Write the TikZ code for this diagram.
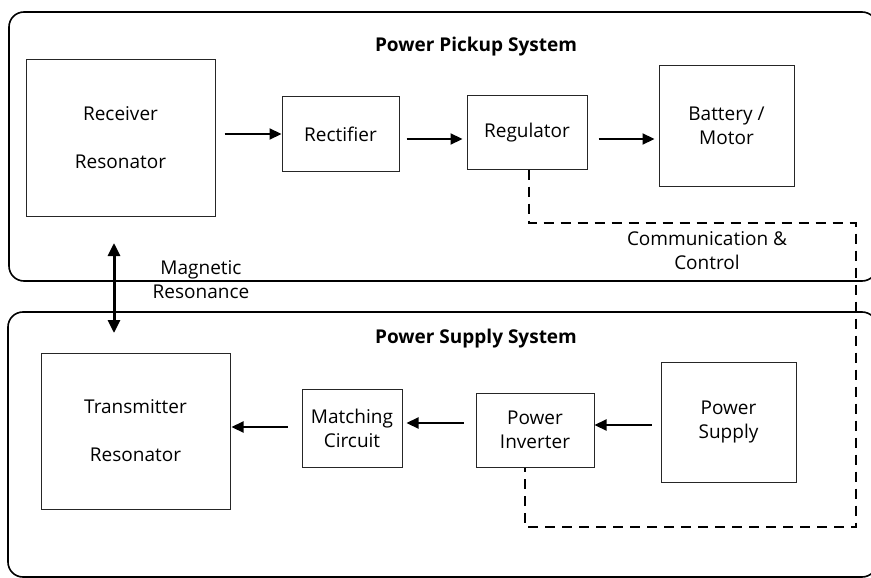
\documentclass[tikz,border=0pt]{standalone}
\usepackage{fontspec}
\setmainfont{Open Sans}
\usetikzlibrary{arrows.meta,calc}
\begin{document}
\begin{tikzpicture}[x=1pt,y=-1pt,
  blk/.style={draw=black!85,line width=1pt,inner sep=0pt,font=\fontsize{19}{24}\selectfont,align=center},
  sysbox/.style={draw=black,line width=1.6pt,rounded corners=15pt},
  flow/.style={line width=2.2pt,-{Triangle[length=12pt,width=11pt]}},
  comm/.style={line width=2pt,dash pattern=on 10pt off 7pt},
  lbl/.style={font=\fontsize{19}{24}\selectfont,align=center,inner sep=0pt},
  ttl/.style={font=\fontsize{19}{22}\selectfont\bfseries,inner sep=0pt}]
\useasboundingbox (0,0) rectangle (871,578);
\fill[white] (0,0) rectangle (871,578);
% system boxes
\draw[sysbox] (9,12) rectangle (877,281);
\draw[sysbox] (8,312) rectangle (877,577);
\node[ttl] (t1) at (476,47) {Power Pickup System};
\node[ttl] (t2) at (476,339) {Power Supply System};
% pickup blocks
\node[blk,minimum width=189pt,minimum height=156pt] (rx) at (120.5,138) {Receiver\\[24pt]Resonator};
\node[blk,minimum width=117pt,minimum height=74pt] (rect) at (340.5,134) {Rectifier};
\node[blk,minimum width=120pt,minimum height=73pt] (reg) at (527,132.5) {Regulator};
\node[blk,minimum width=135pt,minimum height=121pt] (bat) at (726.5,126) {Battery /\\Motor};
% supply blocks
\node[blk,minimum width=189pt,minimum height=156pt] (tx) at (135.5,431) {Transmitter\\[24pt]Resonator};
\node[blk,minimum width=100pt,minimum height=78pt] (mc) at (352,428) {Matching\\Circuit};
\node[blk,minimum width=118pt,minimum height=74pt] (inv) at (535,430) {Power\\Inverter};
\node[blk,minimum width=135pt,minimum height=120pt] (ps) at (728.5,422) {Power\\Supply};
% power flow
\draw[flow] ([xshift=9pt]rx.east |- rect.west) -- (rect.west);
\draw[flow] ([xshift=7pt]rect.east |- 0,139) -- ([xshift=-4pt]reg.west |- 0,139);
\draw[flow] ([xshift=11pt]reg.east |- 0,139) -- ([xshift=-4pt]bat.west |- 0,139);
\draw[flow] ([xshift=-9pt]ps.west |- 0,425) -- (inv.east |- 0,425);
\draw[flow] ([xshift=-12pt]inv.west |- 0,423) -- ([xshift=4pt]mc.east |- 0,423);
\draw[flow] ([xshift=-14pt]mc.west |- 0,427) -- ([xshift=1pt]tx.east |- 0,427);
% magnetic resonance
\coordinate (mtop) at (114,243);
\coordinate (mbot) at (114,333);
\draw[line width=3pt,{Triangle[length=13pt,width=12pt]}-{Triangle[length=13pt,width=12pt]}] (mtop) -- (mbot);
\node[lbl] (mag) at (201,280) {Magnetic\\Resonance};
% communication & control
\coordinate (c1) at (529,223);
\coordinate (c2) at (856,223);
\coordinate (c3) at (856,527);
\coordinate (c4) at (525,527);
\draw[comm] (reg.south -| c1) -- (c1) -- (c2) -- (c3) -- (c4) -- (inv.south -| c4);
\node[lbl] (cc) at (707,251) {Communication \&\\Control};
\end{tikzpicture}
\end{document}
